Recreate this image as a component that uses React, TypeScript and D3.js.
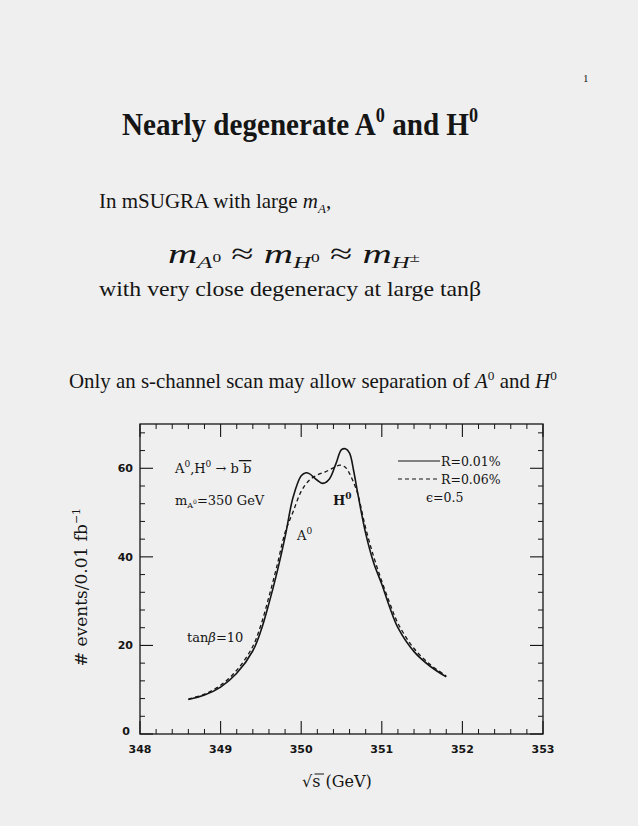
import React from "react";
import * as d3 from "d3";

const xMajorTicks = [348, 349, 350, 351, 352, 353];
const yMajorTicks = [0, 20, 40, 60];

const solidEnergy = [348.6, 348.8, 349.0, 349.2, 349.4, 349.5, 349.6, 349.7, 349.8, 349.9, 350.0, 350.06, 350.1, 350.2, 350.27, 350.35, 350.43, 350.5, 350.55, 350.6, 350.65, 350.7, 350.8, 350.9, 351.0, 351.1, 351.2, 351.4, 351.6, 351.8];
const solidEvents = [7.8, 8.8, 10.6, 13.7, 18.8, 23.3, 29.5, 36.5, 44.5, 53.5, 58.3, 59.0, 58.8, 57.3, 56.6, 57.6, 61.0, 64.2, 64.4, 63.4, 59.5, 54.5, 45.3, 38.6, 33.8, 28.5, 24.0, 18.6, 15.3, 12.9];

const dashedEnergy = [348.6, 348.8, 349.0, 349.2, 349.4, 349.5, 349.6, 349.7, 349.8, 349.9, 350.0, 350.1, 350.2, 350.3, 350.4, 350.48, 350.55, 350.6, 350.65, 350.7, 350.8, 350.9, 351.0, 351.1, 351.2, 351.4, 351.6, 351.8];
const dashedEvents = [7.9, 9.0, 11.0, 14.4, 19.8, 24.6, 31.0, 38.0, 45.5, 50.2, 54.8, 57.3, 58.5, 59.2, 60.1, 60.7, 60.2, 58.8, 56.8, 54.3, 46.5, 40.0, 34.5, 29.5, 25.0, 19.3, 15.7, 13.1];

const legendLabels = ["R=0.01%", "R=0.06%"];

const W = 638;
const H = 826;
const plot = { left: 140, right: 543, top: 424, bottom: 734 };

export default function App() {
  const x = d3.scaleLinear().domain([348, 353]).range([plot.left, plot.right]);
  const y = d3.scaleLinear().domain([0, 70]).range([plot.bottom, plot.top]);

  const xMinor = d3.range(348, 353.001, 0.2).filter((v) => Math.abs(v - Math.round(v)) > 1e-6);
  const yMinor = d3.range(0, 70.001, 4).filter((v) => v % 20 !== 0);

  const line = d3
    .line<[number, number]>()
    .x((d) => x(d[0]))
    .y((d) => y(d[1]))
    .curve(d3.curveCatmullRom.alpha(0.5));

  const solidPath = line(solidEnergy.map((e, i) => [e, solidEvents[i]]) as [number, number][]) || "";
  const dashedPath = line(dashedEnergy.map((e, i) => [e, dashedEvents[i]]) as [number, number][]) || "";

  const ink = "#151515";
  const plotFont = "'DejaVu Serif', serif";
  const slideFont = "'Liberation Serif', 'Times New Roman', serif";
  const majorLen = 13;
  const minorLen = 5;

  return (
    <svg width={W} height={H} style={{ position: "absolute", left: 0, top: 0, background: "#efefef" }}>
      <rect x={0} y={0} width={W} height={H} fill="#efefef" />
      <text x={583} y={82} fontSize={11} fontFamily={slideFont} fill={ink}>1</text>

      {/* slide text */}
      <g transform="translate(122,135) scale(0.91,1)">
        <text x={0} y={0} fontFamily={slideFont} fontWeight="bold" fontSize={32} fill={ink}>
          Nearly degenerate A<tspan fontSize={20} dy={-13}>0</tspan><tspan dy={13}> and H</tspan><tspan fontSize={20} dy={-13}>0</tspan>
        </text>
      </g>
      <text x={99} y={208} fontFamily={slideFont} fontSize={21} fill={ink}>
        In mSUGRA with large <tspan fontStyle="italic">m</tspan><tspan fontStyle="italic" fontSize={13} dy={5}>A</tspan><tspan dy={-5}>,</tspan>
      </text>
      <text x={168} y={263} fontFamily={slideFont} fontStyle="italic" fontSize={28} fill={ink} textLength={252} lengthAdjust="spacingAndGlyphs">
        m<tspan fontSize={17} dy={5}>A</tspan><tspan fontSize={12} dy={-6} fontStyle="normal">0</tspan><tspan dy={1} fontStyle="normal"> ≈ </tspan>m<tspan fontSize={17} dy={5}>H</tspan><tspan fontSize={12} dy={-6} fontStyle="normal">0</tspan><tspan dy={1} fontStyle="normal"> ≈ </tspan>m<tspan fontSize={17} dy={5}>H</tspan><tspan fontSize={13} dy={-6} fontStyle="normal">±</tspan>
      </text>
      <g transform="translate(99,296) scale(1.08,1)">
        <text x={0} y={0} fontFamily={slideFont} fontSize={22} fill={ink}>
          with very close degeneracy at large tanβ
        </text>
      </g>
      <g transform="translate(69,388) scale(1.02,1)">
        <text x={0} y={0} fontFamily={slideFont} fontSize={20.5} fill={ink}>
          Only an s-channel scan may allow separation of <tspan fontStyle="italic">A</tspan><tspan fontSize={13} dy={-8}>0</tspan><tspan dy={8}> and </tspan><tspan fontStyle="italic">H</tspan><tspan fontSize={13} dy={-8}>0</tspan>
        </text>
      </g>

      {/* frame */}
      <rect x={plot.left} y={plot.top} width={plot.right - plot.left} height={plot.bottom - plot.top} fill="none" stroke={ink} strokeWidth={1.3} />

      {/* x ticks */}
      {xMajorTicks.map((t) => (
        <g key={"xM" + t}>
          <line x1={x(t)} x2={x(t)} y1={plot.bottom} y2={plot.bottom - majorLen} stroke={ink} strokeWidth={1.1} />
          <line x1={x(t)} x2={x(t)} y1={plot.top} y2={plot.top + majorLen} stroke={ink} strokeWidth={1.1} />
          <text x={x(t)} y={753} textAnchor="middle" fontFamily="'DejaVu Sans', sans-serif" fontWeight="bold" fontSize={11} fill={ink}>{t}</text>
        </g>
      ))}
      {xMinor.map((t, i) => (
        <g key={"xm" + i}>
          <line x1={x(t)} x2={x(t)} y1={plot.bottom} y2={plot.bottom - minorLen} stroke={ink} strokeWidth={1} />
          <line x1={x(t)} x2={x(t)} y1={plot.top} y2={plot.top + minorLen} stroke={ink} strokeWidth={1} />
        </g>
      ))}

      {/* y ticks */}
      {yMajorTicks.map((t) => (
        <g key={"yM" + t}>
          <line x1={plot.left} x2={plot.left + majorLen} y1={y(t)} y2={y(t)} stroke={ink} strokeWidth={1.1} />
          <line x1={plot.right} x2={plot.right - majorLen} y1={y(t)} y2={y(t)} stroke={ink} strokeWidth={1.1} />
          <text x={t === 0 ? 130 : 133} y={y(t) + (t === 0 ? 1 : 4)} textAnchor="end" fontFamily="'DejaVu Sans', sans-serif" fontWeight="bold" fontSize={11} fill={ink}>{t}</text>
        </g>
      ))}
      {yMinor.map((t) => (
        <g key={"ym" + t}>
          <line x1={plot.left} x2={plot.left + minorLen} y1={y(t)} y2={y(t)} stroke={ink} strokeWidth={1} />
          <line x1={plot.right} x2={plot.right - minorLen} y1={y(t)} y2={y(t)} stroke={ink} strokeWidth={1} />
        </g>
      ))}

      {/* curves */}
      <path d={dashedPath} fill="none" stroke={ink} strokeWidth={1.3} strokeDasharray="4,3" />
      <path d={solidPath} fill="none" stroke={ink} strokeWidth={1.6} />

      {/* annotations */}
      <text x={175} y={473} fontFamily={plotFont} fontSize={13} fill={ink}>
        A<tspan fontSize={9} dy={-6}>0</tspan><tspan dy={6}>,H</tspan><tspan fontSize={9} dy={-6}>0</tspan><tspan dy={6}> → b</tspan><tspan textDecoration="overline"> b</tspan>
      </text>
      <text x={175} y={505} fontFamily={plotFont} fontSize={13} fill={ink}>
        m<tspan fontSize={8} dy={3}>A</tspan><tspan fontSize={6} dy={-4}>0</tspan><tspan dy={1}>=350 GeV</tspan>
      </text>
      <text x={297} y={540} fontFamily={plotFont} fontSize={13} fill={ink}>
        A<tspan fontSize={9} dy={-6}>0</tspan>
      </text>
      <text x={333} y={505} fontFamily={plotFont} fontSize={13} fontWeight="bold" fill={ink}>
        H<tspan fontSize={9} dy={-6}>0</tspan>
      </text>
      <text x={187} y={642} fontFamily={plotFont} fontSize={13} fill={ink}>
        tan<tspan fontStyle="italic">β</tspan>=10
      </text>

      {/* legend */}
      <line x1={398} x2={440} y1={461} y2={461} stroke={ink} strokeWidth={1.2} />
      <text x={441} y={466} fontFamily={plotFont} fontSize={12.5} fill={ink}>{legendLabels[0]}</text>
      <line x1={398} x2={440} y1={479} y2={479} stroke={ink} strokeWidth={1.2} strokeDasharray="4,3" />
      <text x={441} y={484} fontFamily={plotFont} fontSize={12.5} fill={ink}>{legendLabels[1]}</text>
      <text x={426} y={502} fontFamily={plotFont} fontSize={12.5} fill={ink}>ϵ=0.5</text>

      {/* axis titles */}
      <text x={302} y={787} fontFamily={plotFont} fontSize={16} fill={ink}>
        √s (GeV)
      </text>
      <line x1={314.5} x2={324} y1={774} y2={774} stroke={ink} strokeWidth={1} />
      <text transform="translate(87,587) rotate(-90)" textAnchor="middle" fontFamily={plotFont} fontSize={17} fill={ink}>
        # events/0.01 fb<tspan fontSize={11} dy={-7}>−1</tspan>
      </text>
    </svg>
  );
}
